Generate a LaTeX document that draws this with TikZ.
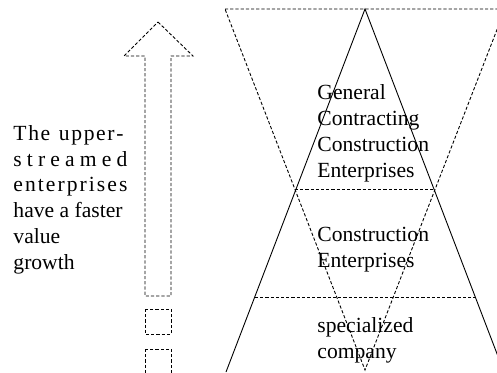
\documentclass[tikz,border=0pt]{standalone}
\usepackage{fontspec}
\setmainfont{Liberation Serif}
\begin{document}
\begin{tikzpicture}[x=0.5pt,y=-0.5pt,line width=0.45pt]
	\def \toplevel{9}
	\def \uppercut{189}
	\def \lowercut{297}
	\def \basement{372}
	\tikzstyle{d-line}=[draw=black,dash pattern=on 1.6pt off 1pt]
	\tikzstyle{s-line}=[draw=black]
	\tikzstyle{label}=[anchor=base west,inner sep=0pt,align=left,font=\fontsize{10.8}{12.85}\selectfont]
	\clip (0,0) rectangle (497,372);
	
	% inverted triangle (dashed)
	\coordinate (v0) at (225,\toplevel);
	\coordinate (v1) at (505,\toplevel);
	\coordinate (v2) at (365,370);
	% pyramid (solid)
	\coordinate (p0) at (365,\toplevel);
	\coordinate (p1) at (226,\basement);
	\coordinate (p2) at (504,\basement);
	% cut lines
	\coordinate (c0) at (295,\uppercut);
	\coordinate (c1) at (435,\uppercut);
	\coordinate (c2) at (255,\lowercut);
	\coordinate (c3) at (475,\lowercut);
	
	\draw[d-line] (v0) -- (v1) -- (v2) -- cycle;
	\draw[s-line] (p1) -- (p0) -- (p2);
	\draw[d-line] (c0) -- (c1);
	\draw[d-line] (c2) -- (c3);
	
	% growth arrow
	\coordinate (a0) at (158,22);
	\coordinate (a1) at (193,56);
	\coordinate (a2) at (171,56);
	\coordinate (a3) at (171,296);
	\coordinate (a4) at (145,296);
	\coordinate (a5) at (145,56);
	\coordinate (a6) at (124,56);
	\draw[d-line] (a0) -- (a1) -- (a2) -- (a3) -- (a4) -- (a5) -- (a6) -- cycle;
	\coordinate (b0) at (145,309);
	\coordinate (b1) at (171,334);
	\coordinate (b2) at (145,349);
	\coordinate (b3) at (171,374);
	\draw[d-line] (b0) rectangle (b1);
	\draw[d-line] (b2) rectangle (b3);
	
	% labels (anchored at the baseline of their last line)
	\node[label] (upstream) at (13,269) {\makebox[55pt][s]{T\hfil h\hfil e\hfil\hfil\ u\hfil p\hfil p\hfil e\hfil r\hfil -}\\
		\makebox[57pt][s]{s\hfill t\hfill r\hfill e\hfill a\hfill m\hfill e\hfill d}\\
		\makebox[57pt][s]{e\hfil n\hfil t\hfil e\hfil r\hfil p\hfil r\hfil i\hfil s\hfil e\hfil s}\\
		have a faster\\value\\growth};
	\node[label] (general) at (317,177) {General\\Contracting\\Construction\\Enterprises};
	\node[label] (construction) at (317,267) {Construction\\Enterprises};
	\node[label] (specialized) at (317,358) {specialized\\company};
\end{tikzpicture}
\end{document}
